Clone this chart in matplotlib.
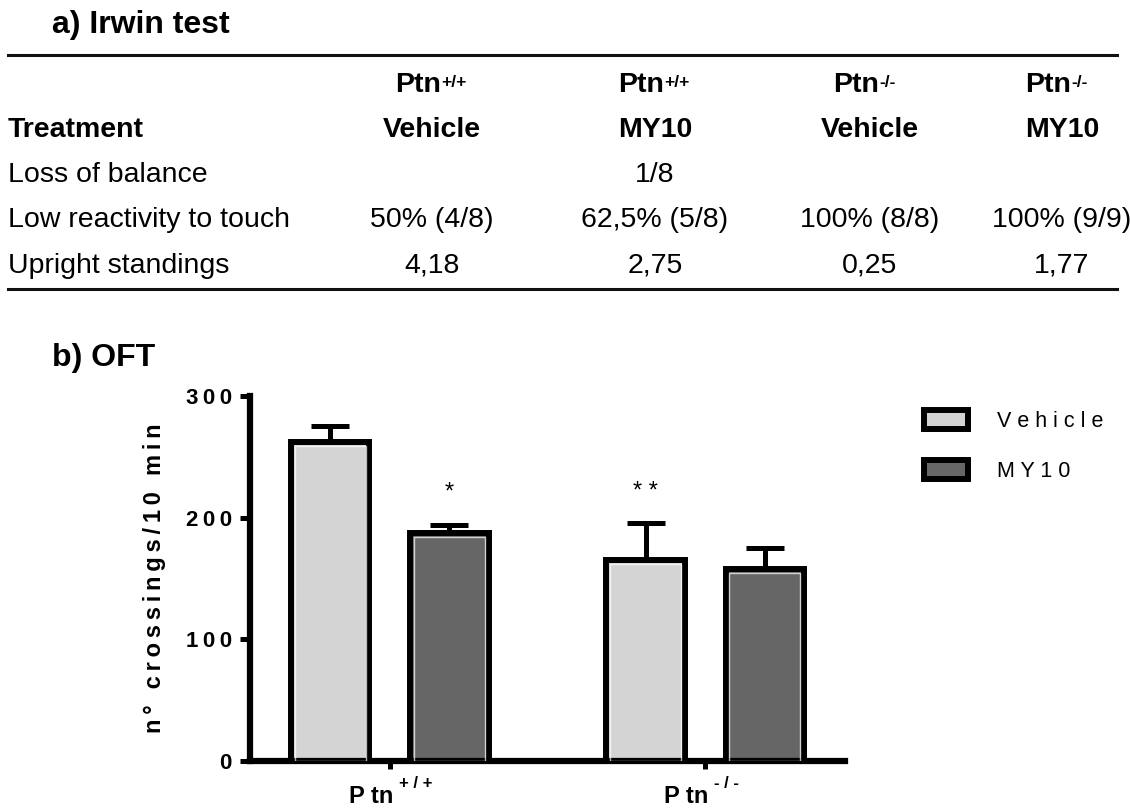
import matplotlib
matplotlib.use("Agg")
import matplotlib.pyplot as plt
from matplotlib.lines import Line2D
from matplotlib.patches import Patch
from matplotlib.transforms import ScaledTranslation
import numpy as np

plt.rcParams['font.family'] = ['Liberation Sans', 'DejaVu Sans']

# ---- data: a) Irwin test table ----
col_genotype = ['+/+', '+/+', '-/-', '-/-']
col_treatment = ['Vehicle', 'MY10', 'Vehicle', 'MY10']
row_labels = ['Loss of balance', 'Low reactivity to touch', 'Upright standings']
loss_of_balance = ['', '1/8', '', '']
low_reactivity = ['50% (4/8)', '62,5% (5/8)', '100% (8/8)', '100% (9/9)']
upright = ['4,18', '2,75', '0,25', '1,77']

# ---- data: b) OFT ----
groups = ['+/+', '-/-']
vehicle_mean = [262, 165]
vehicle_sem = [13, 31]
my10_mean = [187, 158]
my10_sem = [7, 17]
vehicle_sig = ['', '**']
my10_sig = ['*', '']
yticks = [0, 100, 200, 300]

W, H = 1130, 808
fig = plt.figure(figsize=(W / 100, H / 100), dpi=100)


def px(x, y):
    return x / W, 1 - y / H


def spaced(s, sep='\u2009'):
    return sep.join(s)


def add_sup(parent, sup, size, dx=1, dy=-1, sep=''):
    # superscript glued to the top right corner of another text
    fig.add_artist(matplotlib.text.Annotation(
        sep.join(sup) if sep else sup, xy=(1, 1), xycoords=parent,
        xytext=(dx, dy), textcoords='offset points', fontsize=size,
        fontweight='bold', ha='left', va='top'))


# ---- table ----
fig.text(*px(52, 25), 'a) Irwin test', fontsize=23, fontweight='bold', va='center')
for y in (55, 289):
    fig.add_artist(Line2D([8 / W, 1117 / W], [1 - y / H] * 2, color='#111111',
                          lw=2.2, transform=fig.transFigure))

col_x = [432, 655, 870, 1062]
fig.text(*px(8, 130), 'Treatment', fontsize=20.5, fontweight='bold', va='center')
for cx, g, t in zip(col_x, col_genotype, col_treatment):
    head = fig.text(*px(cx + 9, 85), 'Ptn', fontsize=20.5, fontweight='bold',
                    ha='right', va='center')
    add_sup(head, g, 12.5, dx=0.5, dy=-2)
    fig.text(*px(cx, 130), t, fontsize=20.5, fontweight='bold', ha='center', va='center')

rows = [loss_of_balance, low_reactivity, upright]
for ry, lab, vals in zip([175, 220, 266], row_labels, rows):
    fig.text(*px(8, ry), lab, fontsize=20.5, va='center')
    for cx, v in zip(col_x, vals):
        fig.text(*px(cx, ry), v, fontsize=20.5, ha='center', va='center')

# ---- bar chart ----
fig.text(*px(52, 358), 'b) OFT', fontsize=23, fontweight='bold', va='center')

ax = fig.add_axes([250 / W, (H - 761) / H, 595 / W, 365 / H])
x = np.arange(len(groups))
off = 0.189
bw = 0.248
light, dark = '#d4d4d4', '#666666'

for xs, means, sems, col, sig in [(x - off, vehicle_mean, vehicle_sem, light, vehicle_sig),
                                  (x + off, my10_mean, my10_sem, dark, my10_sig)]:
    ax.bar(xs, means, width=bw, color=col, edgecolor='black', linewidth=4.3, zorder=2)
    # thin light inner outline as in GraphPad
    ax.bar(xs, np.array(means) - 3.2, width=bw - 0.024, color='none',
           edgecolor='white', linewidth=1.0, alpha=0.7, zorder=3)
    ax.errorbar(xs, means, yerr=[np.zeros(len(sems)), sems], fmt='none', ecolor='black',
                elinewidth=3.6, capsize=14, capthick=3.6, zorder=1)
    for xi, m, s, st in zip(xs, means, sems, sig):
        if st:
            ax.text(xi, 221, spaced(st, ' '), ha='center', va='center', fontsize=17)

ax.set_xlim(-0.444, 1.444)
ax.set_ylim(0, 300)
ax.set_yticks(yticks)
ax.set_yticklabels([spaced(str(t)) for t in yticks], fontsize=16, fontweight='bold')
ax.set_xticks(x)
ax.set_xticklabels(['P tn'] * len(groups), fontsize=17, fontweight='bold')
ax.tick_params(axis='y', length=7, width=3.6, pad=6)
ax.tick_params(axis='x', length=6, width=3.6, pad=11)
shift = ScaledTranslation(-0.19, 0, fig.dpi_scale_trans)
for lab, g in zip(ax.get_xticklabels(), groups):
    lab.set_transform(lab.get_transform() + shift)
    add_sup(lab, g, 12, dx=4, dy=6, sep=' ')
for sp in ('top', 'right'):
    ax.spines[sp].set_visible(False)
for sp in ('left', 'bottom'):
    ax.spines[sp].set_linewidth(4.5)
ax.set_ylabel(spaced('n° crossings/10 min'), fontsize=17, fontweight='bold',
              labelpad=14)

handles = [Patch(facecolor=light, edgecolor='black', linewidth=4.3),
           Patch(facecolor=dark, edgecolor='black', linewidth=4.3)]
fig.legend(handles, [spaced('Vehicle', ' '), spaced('MY10', ' ')], loc='upper left',
           bbox_to_anchor=px(924, 410), frameon=False, fontsize=15.5,
           handlelength=2.05, handleheight=1.0, labelspacing=1.3, handletextpad=1.35,
           borderaxespad=0, borderpad=0)

fig.savefig('out.png', dpi=100)
